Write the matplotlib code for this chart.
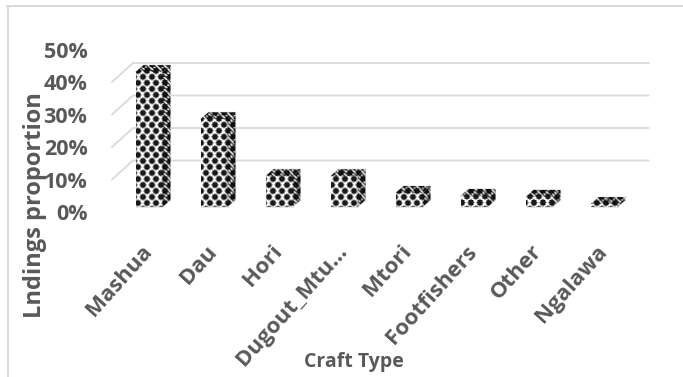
#Landings proportion by craft type, drawn as patterned pseudo-3D columns

import numpy as np
import matplotlib
matplotlib.use("Agg")
import matplotlib.pyplot as plt
from matplotlib.patches import Polygon

crafts = ["Mashua", "Dau", "Hori", "Dugout_Mtu...", "Mtori", "Footfishers", "Other", "Ngalawa"]
landings = [41.5, 27.0, 9.5, 9.5, 4.3, 3.4, 3.1, 0.9]
y_ticks = [0, 10, 20, 30, 40, 50]
wall_ticks = [10, 20, 30, 40]

W, H = 683, 377
TEXT = "#595959"
GRID = "#d9d9d9"

plt.rcParams["font.family"] = ["Open Sans", "DejaVu Sans"]
plt.rcParams["font.weight"] = "bold"

fig = plt.figure(figsize=(W / 100, H / 100), dpi=100)
# one category is 65px wide, 10% is 32.5px tall
ax = fig.add_axes([116.5 / W, (H - 212) / H, 520 / W, 162.5 / H])
ax.set_xlim(-0.5, 7.5)
ax.set_ylim(0, 50)
ax.axis("off")

px_x = 1 / 65
px_y = 10 / 32.5

# wall and floor offsets for the perspective
wall_dx = 21 * px_x
wall_dy = 19 * px_y
for t in wall_ticks:
	ax.plot([-0.5 - 4.5 * px_x, -0.5 - 4.5 * px_x + wall_dx, 7.5 + 12 * px_x],
		[t, t + wall_dy, t + wall_dy], color=GRID, lw=1.3, clip_on=False, zorder=1)

def dots(shade_row=False):
	# staggered black dots on white, one array cell per pixel
	yy, xx = np.mgrid[0:260, 0:600]
	tile = np.ones(xx.shape)
	a = np.hypot((xx % 9) - 4, (yy % 12) - 3)
	b = np.hypot(((xx + 4) % 9) - 4, ((yy + 6) % 12) - 3)
	tile[(a < 3.1) | (b < 3.1)] = 0.1
	if shade_row:
		tile = np.where((xx + yy) % 4 < 2, tile * 0.25, tile)
	return tile

front_tile = dots()
side_tile = dots(True)
img_extent = (-0.8, 8.43, -2, 78)

bar_w = 27 * px_x
base = 5 * px_y
dx = 8 * px_x
dy = 7 * px_y
bars = ax.bar(range(len(crafts)), landings, width=bar_w, bottom=base, color="white",
	edgecolor="#e6e6e6", linewidth=0.8, zorder=3)

for rect, v in zip(bars, landings):
	x0 = rect.get_x()
	x1 = x0 + rect.get_width()
	top = base + v
	side = Polygon([(x1, base), (x1 + dx, base + dy), (x1 + dx, top + dy), (x1, top)],
		closed=True, facecolor="white", edgecolor="#e6e6e6", lw=0.8, zorder=3, clip_on=False)
	cap = Polygon([(x0, top), (x0 + dx, top + dy), (x1 + dx, top + dy), (x1, top)],
		closed=True, facecolor="white", edgecolor="#e6e6e6", lw=0.8, zorder=3, clip_on=False)
	ax.add_patch(side)
	ax.add_patch(cap)
	for patch, tile in ((rect, front_tile), (side, side_tile), (cap, side_tile)):
		im = ax.imshow(tile, cmap="gray", vmin=0, vmax=1, extent=img_extent, origin="lower",
			aspect="auto", interpolation="bilinear", zorder=3.5)
		im.set_clip_path(patch)

ax.set_xlim(-0.5, 7.5)
ax.set_ylim(0, 50)

for t in y_ticks:
	ax.text(-0.5 - 29 * px_x, t - 0.8, "%d%%" % t, ha="right", va="center", fontsize=15.5,
		color=TEXT, clip_on=False)

for i, name in enumerate(crafts):
	ax.annotate(name, xy=(i, 0), xycoords=("data", "data"), xytext=(-6, -21),
		textcoords="offset points", rotation=48, ha="right", va="top",
		rotation_mode="anchor", fontsize=16, color=TEXT, annotation_clip=False)

fig.text(35 / W, 1 - 205 / H, "Lndings proportion", rotation=90, ha="center", va="center",
	fontsize=17, color=TEXT)
fig.text(354 / W, 1 - 362 / H, "Craft Type", ha="center", va="center", fontsize=14,
	color=TEXT)

# thin frame around the chart area
fig.add_artist(plt.Line2D([8 / W, 8 / W], [0, 1 - 6 / H], color=GRID, lw=1.4))
fig.add_artist(plt.Line2D([7 / W, 1], [1 - 6 / H, 1 - 6 / H], color=GRID, lw=1.4))

plt.savefig("out.png", dpi=100)
